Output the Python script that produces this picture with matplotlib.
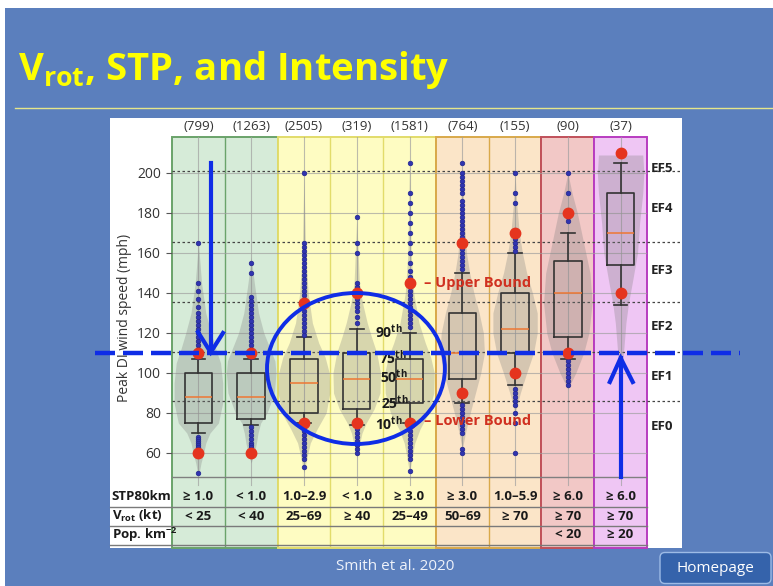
import matplotlib.pyplot as plt
from matplotlib.patches import Rectangle, Ellipse, FancyBboxPatch

plt.rcParams.update({'font.family': 'Open Sans',
                     'mathtext.fontset': 'custom',
                     'mathtext.rm': 'Open Sans',
                     'mathtext.bf': 'Open Sans:bold',
                     'mathtext.it': 'Open Sans:italic'})

W, H = 773, 586
SLIDE = '#5b7fbd'

# per-bin data
counts = ['(799)', '(1263)', '(2505)', '(319)', '(1581)', '(764)', '(155)', '(90)', '(37)']
q1 = [75, 77, 80, 82, 85, 97, 110, 118, 154]
med = [88, 88, 95, 97, 97, 110, 122, 140, 170]
q3 = [100, 100, 107, 110, 107, 130, 140, 156, 190]
whislo = [70, 74, 75, 74, 75, 85, 94, 107, 134]
whishi = [107, 107, 118, 122, 120, 150, 160, 170, 205]
upper_bound = [110, 110, 135, 140, 145, 165, 170, 180, 210]
lower_bound = [60, 60, 75, 75, 75, 90, 100, 110, 140]

outliers = [
    [165, 145, 141, 137, 133, 130, 128, 126, 124, 122, 120, 118, 116, 114, 112, 110, 108,
     68, 67, 66, 65, 64, 63, 62, 61, 59, 50],
    [155, 150, 138, 136, 134, 132, 130, 128, 126, 124, 122, 120, 118, 116, 114, 112, 110, 108,
     73, 71, 69, 67, 65, 64, 63, 62, 61],
    [200, 165, 163, 161, 159, 157, 155, 153, 151, 149, 147, 145, 143, 141, 139, 137, 135, 133,
     131, 129, 127, 125, 123, 121, 119, 73, 71, 69, 67, 65, 63, 61, 59, 57, 53],
    [178, 165, 160, 145, 143, 141, 139, 137, 135, 133, 131, 128, 125,
     72, 70, 68, 66, 64, 62, 60],
    [205, 190, 185, 180, 175, 170, 165, 160, 155, 151, 148, 146, 143, 141, 139, 137, 135, 133,
     131, 129, 127, 125, 123, 73, 71, 69, 67, 65, 63, 61, 59, 57, 51],
    [205, 200, 198, 196, 194, 192, 190, 186, 184, 182, 180, 178, 176, 174, 172, 170, 168, 162,
     160, 158, 156, 154, 152, 84, 82, 80, 78, 76, 74, 72, 70, 62, 60],
    [200, 190, 185, 167, 165, 163, 161, 92, 90, 88, 86, 84, 80, 75, 60],
    [200, 190, 178, 176, 106, 104, 102, 100, 98, 96, 94],
    [],
]

# violin outlines: speed (mph) and half width (in bin widths)
violin_speed = [
    [48, 55, 60, 65, 70, 75, 85, 95, 105, 112, 120, 130, 145, 165],
    [55, 60, 65, 70, 75, 80, 90, 100, 106, 112, 120, 130, 145, 158],
    [50, 58, 65, 72, 80, 90, 100, 108, 115, 125, 140, 160, 200],
    [58, 64, 70, 75, 82, 90, 100, 110, 118, 125, 135, 145, 178],
    [50, 58, 65, 72, 80, 90, 100, 108, 115, 125, 140, 160, 205],
    [62, 70, 80, 90, 100, 110, 120, 130, 140, 150, 160, 175, 205],
    [80, 90, 100, 110, 120, 130, 140, 150, 160, 170, 185, 200],
    [92, 100, 110, 120, 135, 150, 165, 180, 190, 200],
    [98, 105, 115, 125, 135, 145, 160, 175, 190, 200, 209],
]
violin_half = [
    [0.0, 0.05, 0.1, 0.14, 0.22, 0.38, 0.46, 0.46, 0.42, 0.33, 0.24, 0.14, 0.06, 0.0],
    [0.0, 0.06, 0.1, 0.13, 0.18, 0.3, 0.44, 0.47, 0.45, 0.36, 0.24, 0.14, 0.06, 0.0],
    [0.0, 0.06, 0.12, 0.25, 0.42, 0.49, 0.48, 0.40, 0.28, 0.16, 0.08, 0.03, 0.0],
    [0.0, 0.05, 0.1, 0.18, 0.33, 0.44, 0.45, 0.38, 0.28, 0.2, 0.11, 0.05, 0.0],
    [0.0, 0.05, 0.1, 0.2, 0.36, 0.46, 0.47, 0.40, 0.3, 0.18, 0.08, 0.03, 0.0],
    [0.0, 0.06, 0.15, 0.25, 0.35, 0.42, 0.40, 0.32, 0.22, 0.14, 0.08, 0.04, 0.0],
    [0.0, 0.1, 0.22, 0.35, 0.42, 0.42, 0.33, 0.22, 0.14, 0.08, 0.03, 0.0],
    [0.0, 0.15, 0.3, 0.4, 0.46, 0.42, 0.3, 0.18, 0.08, 0.0],
    [0.0, 0.04, 0.07, 0.1, 0.15, 0.22, 0.32, 0.36, 0.42, 0.44, 0.42],
]

stp = ['≥ 1.0', '< 1.0', '1.0–2.9', '< 1.0', '≥ 3.0', '≥ 3.0', '1.0–5.9', '≥ 6.0', '≥ 6.0']
vrot = ['< 25', '< 40', '25–69', '≥ 40', '25–49', '50–69', '≥ 70', '≥ 70', '≥ 70']
pop = ['', '', '', '', '', '', '', '< 20', '≥ 20']

ef_labels = ['EF0', 'EF1', 'EF2', 'EF3', 'EF4', 'EF5']
ef_label_y = [73, 98.5, 123.5, 151.5, 182, 202.5]
ef_bounds = [86, 110.5, 135.5, 165.5, 201]

# column groups: first bin, last bin, fill, edge
groups = [(0, 1, '#d6ebd8', '#6aa36a'),
          (2, 4, '#fefcc2', '#e2dc6a'),
          (5, 6, '#fbe5c8', '#d9a94a'),
          (7, 7, '#f2c8c6', '#c0505a'),
          (8, 8, '#efc6f4', '#b83cc0')]


def fx(x):
    return x / W


def fy(y):
    return 1 - y / H


fig = plt.figure(figsize=(W / 100, H / 100), dpi=100)
fig.patch.set_facecolor('white')
fig.patches.append(Rectangle((fx(5), 0), 1, fy(8), transform=fig.transFigure,
                             facecolor=SLIDE, edgecolor='none', zorder=-2))
fig.patches.append(Rectangle((fx(110), fy(548)), (682 - 110) / W, (548 - 118) / H,
                             transform=fig.transFigure, facecolor='white',
                             edgecolor='none', zorder=-1))

# slide title
fig.text(fx(18), fy(80), r'V$_{\mathbf{rot}}$, STP, and Intensity', fontsize=27.5,
         fontweight='bold', color='#ffff00', va='baseline', ha='left')
fig.add_artist(plt.Line2D([fx(15), 1], [fy(108), fy(108)], color='#e6e68a', lw=1))

ax = fig.add_axes([fx(172), fy(548), 475 / W, 411 / H])
ax.set_zorder(2)
ax.patch.set_alpha(0)
ax.set_xlim(-0.5, 8.5)
ax.set_ylim(12.5, 218)
for s in ax.spines.values():
    s.set_visible(False)
ax.set_xticks([])
ax.set_yticks(range(60, 201, 20))
ax.tick_params(axis='y', length=4, width=0.8, color='#555555', labelsize=10,
               labelcolor='#333333', pad=4)

# background bins
for a, b, fc, ec in groups:
    ax.add_patch(Rectangle((a - 0.5, 12.5), b - a + 1, 205.5, facecolor=fc,
                           edgecolor=ec, lw=1.4, zorder=0, clip_on=False))
    for k in range(a, b):
        ax.plot([k + 0.5, k + 0.5], [12.5, 218], color=ec, lw=1, zorder=0.5)

# grid
for v in range(60, 201, 20):
    ax.plot([-0.5, 8.5], [v, v], color='#a0a0a0', lw=0.8, alpha=0.7, zorder=1)
for i in range(9):
    ax.plot([i, i], [44, 218], color='#a0a0a0', lw=0.8, alpha=0.7, zorder=1)
ax.plot([-0.5, 8.5], [48, 48], color='#808080', lw=1, zorder=1)
for v in ef_bounds:
    ax.plot([-0.5, 9.12], [v, v], color='#444444', lw=0.9, ls=(0, (2, 2)),
            zorder=1.5, clip_on=False)

# violins
for i in range(9):
    left = [i - h for h in violin_half[i]]
    right = [i + h for h in violin_half[i]]
    ax.fill_betweenx(violin_speed[i], left, right, color='#7f7f7f', alpha=0.3,
                     lw=0, zorder=2)

# boxes
stats = [dict(q1=q1[i], med=med[i], q3=q3[i], whislo=whislo[i], whishi=whishi[i],
              fliers=[]) for i in range(9)]
ax.bxp(stats, positions=range(9), widths=0.52, capwidths=0.26, showfliers=False,
       boxprops=dict(color='#333333', lw=1.2),
       whiskerprops=dict(color='#333333', lw=1.2),
       capprops=dict(color='#333333', lw=1.2),
       medianprops=dict(color='#ee7733', lw=1.1),
       manage_ticks=False, zorder=3)

# outliers and bounds
for i in range(9):
    ax.plot([i] * len(outliers[i]), outliers[i], 'o', ms=3.3, color='#3034b0',
            mec='#22268e', mew=0.5, zorder=4)
ax.plot(range(9), upper_bound, 'o', ms=7.5, color='#e5341e', zorder=5, clip_on=False)
ax.plot(range(9), lower_bound, 'o', ms=7.5, color='#e5341e', zorder=5, clip_on=False)

# counts above bins
for i, c in enumerate(counts):
    ax.text(i, 223, c, ha='center', va='center', fontsize=9.5, color='#333333',
            clip_on=False)

# EF labels
for lab, y in zip(ef_labels, ef_label_y):
    ax.text(8.57, y, lab, ha='left', va='center', fontsize=9.5, fontweight='bold',
            color='#222222', clip_on=False)

# percentile key
for lab, x, y in zip(['90', '75', '50', '25', '10'], [3.345, 3.42, 3.44, 3.46, 3.345],
                     [120.5, 107.5, 98, 85, 74.5]):
    ax.text(x, y, lab + r'$^{\mathbf{th}}$', ha='left', va='center', fontsize=10,
            fontweight='bold', color='#1a1a1a', zorder=6)
ax.text(4.27, 145, '– Upper Bound', ha='left', va='center', fontsize=10.5,
        fontweight='bold', color='#d03020', zorder=6)
ax.text(4.27, 76, '– Lower Bound', ha='left', va='center', fontsize=10.5,
        fontweight='bold', color='#d03020', zorder=6)

# table
for y in [33, 23.5, 14]:
    ax.plot([-1.674, 8.5], [y, y], color='#7a7a7a', lw=1, zorder=1, clip_on=False)
row_y = [38, 28.5, 19]
row_names = ['STP80km', r'V$_{\mathbf{rot}}$ (kt)', r'Pop. km$^{\mathbf{-2}}$']
for name, y, vals in zip(row_names, row_y, [stp, vrot, pop]):
    ax.text(-1.64, y, name, ha='left', va='center', fontsize=9.5, fontweight='bold',
            color='#1a1a1a', clip_on=False)
    for i, v in enumerate(vals):
        ax.text(i, y, v, ha='center', va='center', fontsize=9.5, fontweight='bold',
                color='#1a1a1a')

# annotations: threshold, arrows, circle
BLUE = '#0f2de6'
ax.plot([-1.96, 10.26], [110, 110], color=BLUE, lw=3.2, dashes=(4.5, 1.8),
        zorder=7, clip_on=False)
ax.plot([0.233, 0.233], [205, 110.5], color=BLUE, lw=3, zorder=7)
ax.plot([-0.008, 0.233, 0.466], [120.5, 110.3, 120], color=BLUE, lw=3, zorder=7,
        solid_joinstyle='miter')
ax.plot([8.0, 8.0], [48, 107.5], color=BLUE, lw=3, zorder=7)
ax.plot([7.795, 8.0, 8.23], [95.5, 107.5, 95.5], color=BLUE, lw=3, zorder=7,
        solid_joinstyle='miter')
ax.add_patch(Ellipse((2.985, 102.25), 3.37, 75.5, fill=False, edgecolor=BLUE,
                     lw=2.8, zorder=7))

fig.text(fx(125), fy(318), 'Peak DI wind speed (mph)', rotation=90, ha='center',
         va='center', fontsize=10, color='#333333')

# footer
fig.text(fx(395), fy(566), 'Smith et al. 2020', ha='center', va='center',
         fontsize=11, color='#eef2fa')
fig.patches.append(FancyBboxPatch((6.60, 0.025), 1.11, 0.31,
                                  boxstyle='round,pad=0,rounding_size=0.05',
                                  transform=fig.dpi_scale_trans, facecolor='#3563ab',
                                  edgecolor='#9dbbe6', lw=1, zorder=2))
fig.text(fx(715), fy(568), 'Homepage', ha='center', va='center', fontsize=11,
         color='white')

fig.savefig('out.png', dpi=100, facecolor=fig.get_facecolor())
